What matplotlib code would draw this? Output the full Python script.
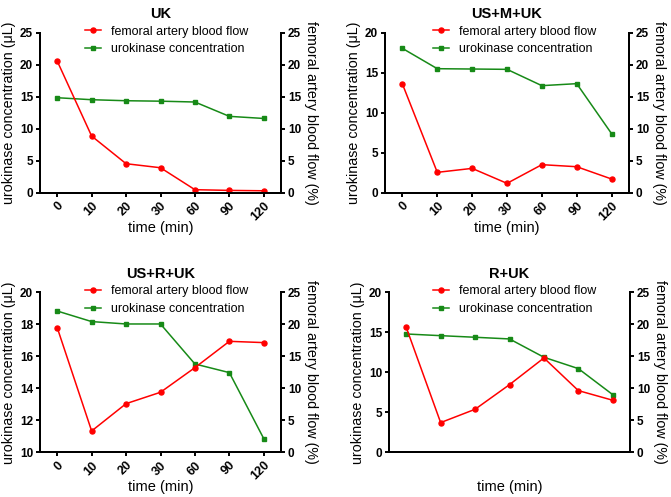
import matplotlib.pyplot as plt

plt.rcParams['font.family'] = ['Liberation Sans', 'DejaVu Sans']

times = ["0", "10", "20", "30", "60", "90", "120"]

# urokinase concentration (left axis)
uk_conc = [14.84, 14.53, 14.37, 14.3, 14.17, 11.93, 11.6]
usmuk_conc = [18.04, 15.5, 15.46, 15.42, 13.38, 13.63, 7.38]
usruk_conc = [18.83, 18.17, 18.02, 18.02, 15.52, 14.98, 10.85]
ruk_conc = [14.79, 14.58, 14.38, 14.17, 11.88, 10.46, 7.2]

# femoral artery blood flow (right axis, %)
uk_flow = [20.57, 8.85, 4.53, 3.9, 0.47, 0.36, 0.3]
usmuk_flow = [16.98, 3.18, 3.8, 1.46, 4.38, 4.06, 2.14]
usruk_flow = [19.48, 3.33, 7.6, 9.38, 13.23, 17.34, 17.14]
ruk_flow = [19.53, 4.64, 6.72, 10.57, 14.74, 9.64, 8.13]

# title, data, left ylim, left ticks, x tick labels shown, [left px, bottom px, width px], legend x
panels = [
    ("UK", uk_conc, uk_flow, (0, 25), [0, 5, 10, 15, 20, 25], True, [40, 192.7, 241], 0.525),
    ("US+M+UK", usmuk_conc, usmuk_flow, (0, 20), [0, 5, 10, 15, 20], True, [385, 192.7, 244], 0.531),
    ("US+R+UK", usruk_conc, usruk_flow, (10, 20), [10, 12, 14, 16, 18, 20], True, [40, 452.3, 241], 0.525),
    ("R+UK", ruk_conc, ruk_flow, (0, 20), [0, 5, 10, 15, 20], False, [389, 452.3, 241], 0.521),
]

W, H = 671, 497
fig = plt.figure(figsize=(W / 100, H / 100), dpi=100)

for title, conc, flow, ylim, yticks, show_x, (x0, ybot, w), legx in panels:
    ax = fig.add_axes([x0 / W, (H - ybot) / H, w / W, 160 / H])
    ax2 = ax.twinx()
    x = list(range(len(times)))
    lf, = ax2.plot(x, flow, color='#ff0000', marker='o', markersize=3.6, lw=1.1,
                   label='femoral artery blood flow')
    lc, = ax.plot(x, conc, color='#178a17', marker='s', markersize=3.4, lw=1.1,
                  label='urokinase concentration')
    ax.set_xlim(-0.5, 6.5)
    ax.set_ylim(*ylim)
    ax.set_yticks(yticks)
    ax2.set_ylim(0, 25)
    ax2.set_yticks([0, 5, 10, 15, 20, 25])
    for a in (ax, ax2):
        a.spines['top'].set_visible(False)
        for s in a.spines.values():
            s.set_linewidth(1.4)
        a.tick_params(width=1.4, length=3, pad=2, labelsize=8.5)
        for lab in a.get_yticklabels():
            lab.set_fontweight('bold')
    if show_x:
        ax.set_xticks(x)
        ax.set_xticklabels(times, rotation=45, ha='right', rotation_mode='anchor',
                           fontweight='bold', fontsize=9)
    else:
        ax.set_xticks([])
    ax.set_xlabel('time (min)', fontsize=10.5)
    ax.xaxis.set_label_coords(0.5, -0.175)
    ax.set_ylabel('urokinase concentration (\u03bcL)', fontsize=10.3)
    ax.yaxis.set_label_coords(-0.1, 0.5)
    ax2.set_ylabel('femoral artery blood flow (%)', fontsize=10.3, rotation=-90, labelpad=12)
    ax.set_title(title, fontsize=10.5, fontweight='bold', pad=10.5)
    ax2.legend([lf, lc], [lf.get_label(), lc.get_label()], loc='center',
               bbox_to_anchor=(legx, 0.951), frameon=False, fontsize=9,
               handlelength=1.3, handletextpad=0.8, labelspacing=0.45,
               borderpad=0, borderaxespad=0)

fig.savefig('out.png', dpi=100)
